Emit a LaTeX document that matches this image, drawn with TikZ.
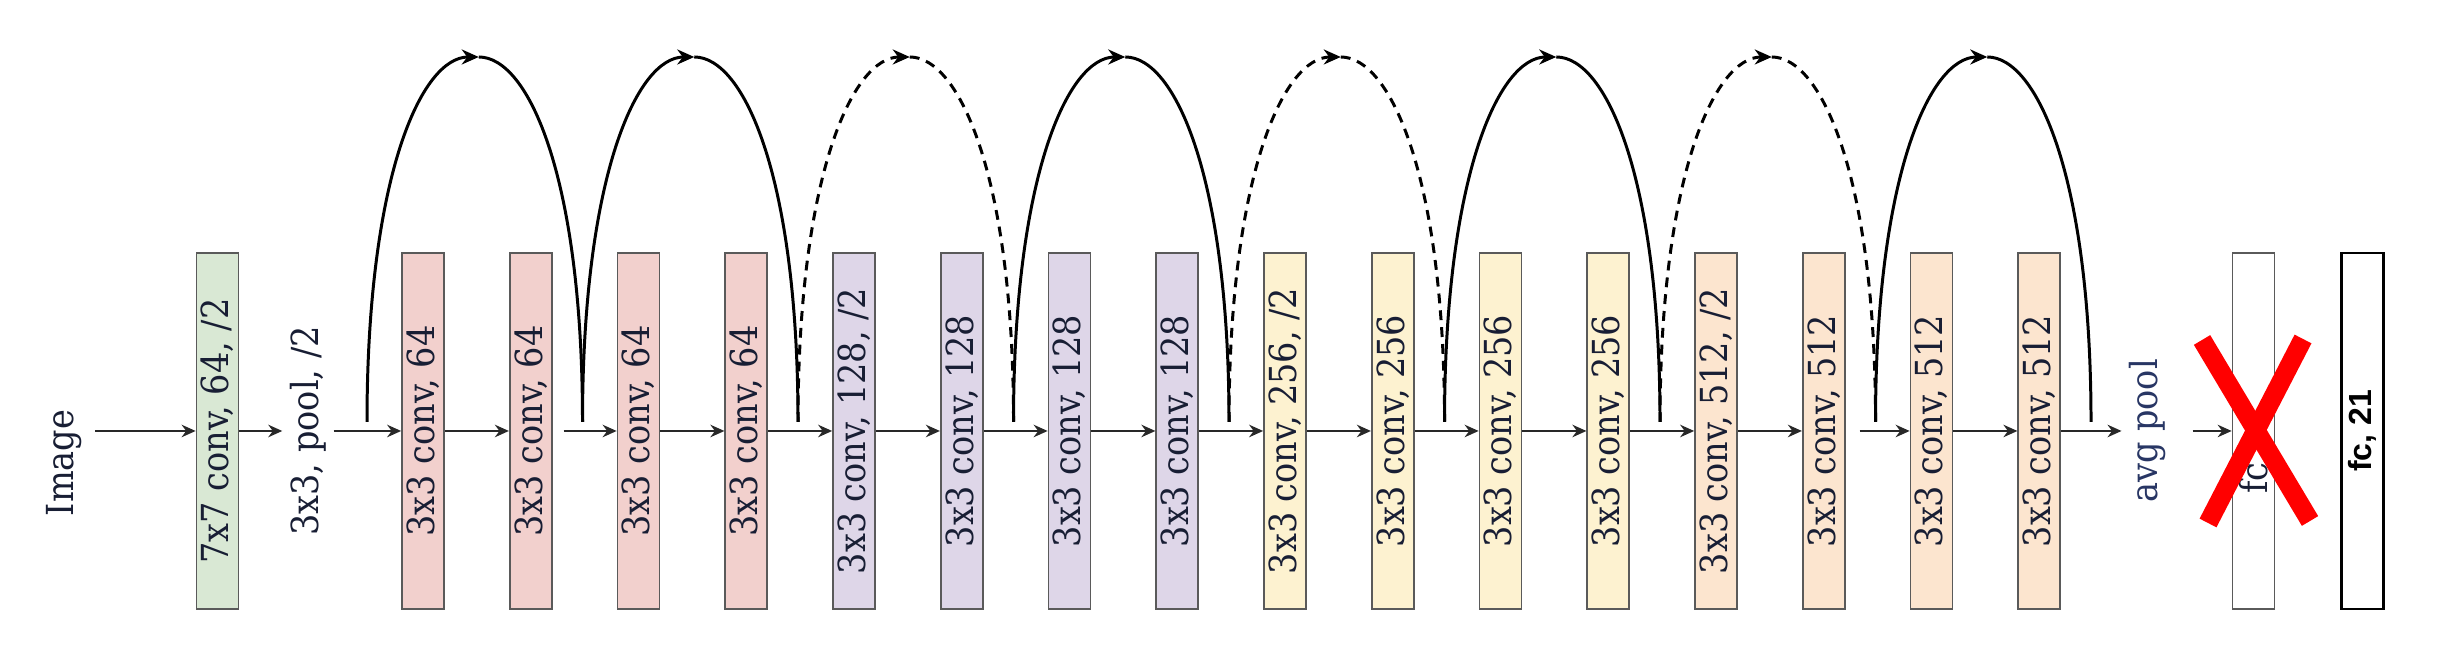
\documentclass[tikz,border=0pt]{standalone}
\usepackage{fontspec}
\setmainfont{DejaVu Serif Condensed}
\newfontfamily\sansbold{Liberation Sans}
\usepackage{xcolor}
\usetikzlibrary{arrows.meta}

\definecolor{ink}{RGB}{24,30,52}
\definecolor{poolink}{RGB}{40,54,100}
\definecolor{boxline}{RGB}{90,90,90}
\definecolor{flowline}{RGB}{40,40,40}
\definecolor{greenbox}{RGB}{217,232,212}
\definecolor{pinkbox}{RGB}{242,208,205}
\definecolor{purplebox}{RGB}{222,214,232}
\definecolor{yellowbox}{RGB}{253,242,208}
\definecolor{orangebox}{RGB}{252,229,207}

\begin{document}
\begin{tikzpicture}[
    font=\fontsize{10.6}{12}\selectfont,
    block/.style={draw=boxline, line width=0.5pt, minimum width=0.42cm, minimum height=3.56cm, inner sep=0pt, text=ink},
    tag/.style={inner sep=0.7mm, text=ink},
    flow/.style={draw=flowline, line width=0.55pt, -{Stealth[length=1.4mm, width=1.25mm]}},
    shortcut/.style={line width=0.85pt},
    projection/.style={shortcut, dash pattern=on 2.8pt off 2pt},
    up/.style={-{Stealth[length=1.7mm, width=1.5mm]}},
]
    \useasboundingbox (0,0) rectangle (24.46,6.68);

    % stem
    \node[tag] (img) at (0.64,2.05) {\rotatebox{90}{Image}};
    \coordinate (in) at (0.95,2.37);
    \node[block, fill=greenbox] (c1) at (2.175,2.37) {\rotatebox{90}{7x7 conv, 64, /2}};
    \node[tag] (pool) at (3.08,2.37) {\rotatebox{90}{3x3, pool, /2}};

    % 64
    \node[block, fill=pinkbox] (p1) at (4.23,2.37) {\rotatebox{90}{3x3 conv, 64}};
    \node[block, fill=pinkbox] (p2) at (5.3075,2.37) {\rotatebox{90}{3x3 conv, 64}};
    \node[block, fill=pinkbox] (p3) at (6.385,2.37) {\rotatebox{90}{3x3 conv, 64}};
    \node[block, fill=pinkbox] (p4) at (7.4625,2.37) {\rotatebox{90}{3x3 conv, 64}};

    % 128
    \node[block, fill=purplebox] (q1) at (8.54,2.37) {\rotatebox{90}{3x3 conv, 128, /2}};
    \node[block, fill=purplebox] (q2) at (9.6175,2.37) {\rotatebox{90}{3x3 conv, 128}};
    \node[block, fill=purplebox] (q3) at (10.695,2.37) {\rotatebox{90}{3x3 conv, 128}};
    \node[block, fill=purplebox] (q4) at (11.7725,2.37) {\rotatebox{90}{3x3 conv, 128}};

    % 256
    \node[block, fill=yellowbox] (y1) at (12.85,2.37) {\rotatebox{90}{3x3 conv, 256, /2}};
    \node[block, fill=yellowbox] (y2) at (13.9275,2.37) {\rotatebox{90}{3x3 conv, 256}};
    \node[block, fill=yellowbox] (y3) at (15.005,2.37) {\rotatebox{90}{3x3 conv, 256}};
    \node[block, fill=yellowbox] (y4) at (16.0825,2.37) {\rotatebox{90}{3x3 conv, 256}};

    % 512
    \node[block, fill=orangebox] (o1) at (17.16,2.37) {\rotatebox{90}{3x3 conv, 512, /2}};
    \node[block, fill=orangebox] (o2) at (18.2375,2.37) {\rotatebox{90}{3x3 conv, 512}};
    \node[block, fill=orangebox] (o3) at (19.315,2.37) {\rotatebox{90}{3x3 conv, 512}};
    \node[block, fill=orangebox] (o4) at (20.3925,2.37) {\rotatebox{90}{3x3 conv, 512}};

    % head
    \node[tag, text=poolink] (avg) at (21.475,2.37) {\rotatebox{90}{avg pool}};
    \node[block, fill=white] (fc) at (22.535,2.37) {};
    \node[tag] (fctag) at (22.535,1.90) {\rotatebox{90}{fc}};
    \node[block, draw=black, line width=0.8pt, fill=white, text=black,
        font=\sansbold\bfseries\fontsize{9.1}{11}\selectfont] (out) at (23.625,2.37) {\rotatebox{90}{fc, 21}};

    % main path
    \draw[flow] (in) -- (c1);
    \draw[flow] (c1) -- (pool);
    \draw[flow] (pool) -- (p1);
    \draw[flow] (p1) -- (p2);
    \draw[flow, shorten <=0.11cm] (p2) -- (p3);
    \draw[flow] (p3) -- (p4);
    \draw[flow] (p4) -- (q1);
    \draw[flow] (q1) -- (q2);
    \draw[flow] (q2) -- (q3);
    \draw[flow] (q3) -- (q4);
    \draw[flow] (q4) -- (y1);
    \draw[flow] (y1) -- (y2);
    \draw[flow] (y2) -- (y3);
    \draw[flow] (y3) -- (y4);
    \draw[flow] (y4) -- (o1);
    \draw[flow] (o1) -- (o2);
    \draw[flow, shorten <=0.14cm] (o2) -- (o3);
    \draw[flow] (o3) -- (o4);
    \draw[flow] (o4) -- (avg);
    \draw[flow, shorten <=0.19cm] (avg) -- (fc);

    % shortcuts: foot points s, tops t
    \coordinate (s0) at (3.67,2.46);
    \coordinate (s1) at (5.825,2.46);
    \coordinate (s2) at (7.98,2.46);
    \coordinate (s3) at (10.135,2.46);
    \coordinate (s4) at (12.29,2.46);
    \coordinate (s5) at (14.445,2.46);
    \coordinate (s6) at (16.60,2.46);
    \coordinate (s7) at (18.755,2.46);
    \coordinate (s8) at (20.91,2.46);
    \coordinate (t0) at (4.7875,6.11);
    \coordinate (t1) at (6.9425,6.11);
    \coordinate (t2) at (9.0975,6.11);
    \coordinate (t3) at (11.2525,6.11);
    \coordinate (t4) at (13.4075,6.11);
    \coordinate (t5) at (15.5625,6.11);
    \coordinate (t6) at (17.7175,6.11);
    \coordinate (t7) at (19.8725,6.11);

    \draw[shortcut, up] (s0) .. controls +(0,2.44) and +(-0.58,0) .. (t0);
    \draw[shortcut] (t0) .. controls +(0.5,0) and +(0,2.44) .. (s1);
    \draw[shortcut, up] (s1) .. controls +(0,2.44) and +(-0.58,0) .. (t1);
    \draw[shortcut] (t1) .. controls +(0.5,0) and +(0,2.44) .. (s2);
    \draw[projection, up] (s2) .. controls +(0,2.44) and +(-0.58,0) .. (t2);
    \draw[projection] (t2) .. controls +(0.5,0) and +(0,2.44) .. (s3);
    \draw[shortcut, up] (s3) .. controls +(0,2.44) and +(-0.58,0) .. (t3);
    \draw[shortcut] (t3) .. controls +(0.5,0) and +(0,2.44) .. (s4);
    \draw[projection, up] (s4) .. controls +(0,2.44) and +(-0.58,0) .. (t4);
    \draw[projection] (t4) .. controls +(0.5,0) and +(0,2.44) .. (s5);
    \draw[shortcut, up] (s5) .. controls +(0,2.44) and +(-0.58,0) .. (t5);
    \draw[shortcut] (t5) .. controls +(0.5,0) and +(0,2.44) .. (s6);
    \draw[projection, up] (s6) .. controls +(0,2.44) and +(-0.58,0) .. (t6);
    \draw[projection] (t6) .. controls +(0.5,0) and +(0,2.44) .. (s7);
    \draw[shortcut, up] (s7) .. controls +(0,2.44) and +(-0.58,0) .. (t7);
    \draw[shortcut] (t7) .. controls +(0.5,0) and +(0,2.44) .. (s8);

    % removed layer
    \draw[red, line width=5.4pt] (22.02,3.28) -- (23.10,1.47);
    \draw[red, line width=5.4pt] (23.03,3.29) -- (22.08,1.45);
\end{tikzpicture}
\end{document}
